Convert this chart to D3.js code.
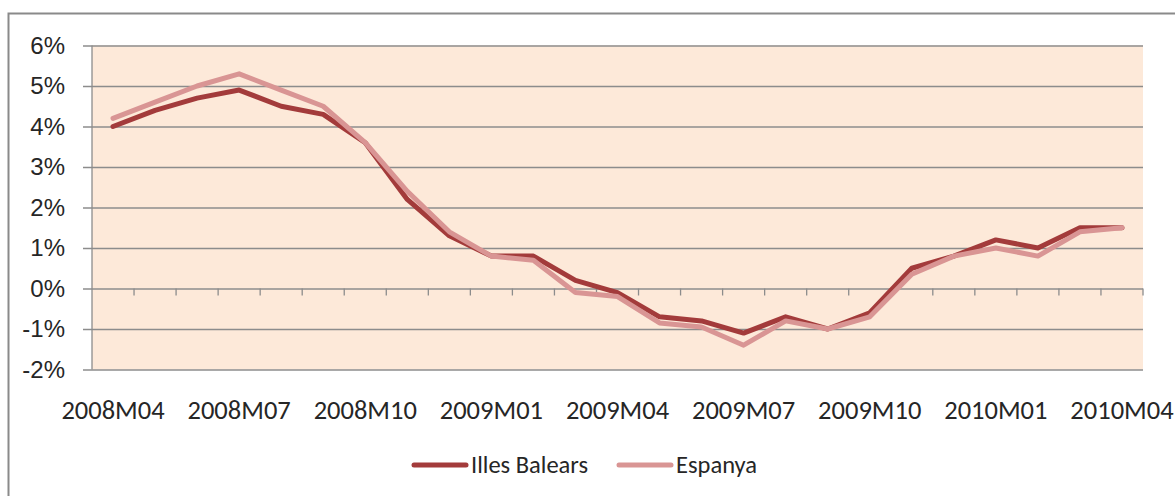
<!DOCTYPE html>
<html>
<head>
<meta charset="utf-8">
<script src="https://cdn.jsdelivr.net/npm/d3@7"></script>
<style>
  html, body { margin: 0; padding: 0; background: #fff; }
  svg { display: block; font-family: Calibri, Carlito, "Open Sans", sans-serif; }
</style>
</head>
<body>
<div id="chart"></div>
<script>

var months = ['2008M04','2008M05','2008M06','2008M07','2008M08','2008M09','2008M10',
              '2008M11','2008M12','2009M01','2009M02','2009M03','2009M04','2009M05',
              '2009M06','2009M07','2009M08','2009M09','2009M10','2009M11','2009M12',
              '2010M01','2010M02','2010M03','2010M04'];

var illesBalears = [4.0, 4.4, 4.7, 4.9, 4.5, 4.3, 3.6, 2.2, 1.3, 0.8, 0.8, 0.2, -0.1,
                    -0.7, -0.8, -1.1, -0.7, -1.0, -0.6, 0.5, 0.8, 1.2, 1.0, 1.5, 1.5];

var espanya = [4.2, 4.6, 5.0, 5.3, 4.9, 4.5, 3.6, 2.4, 1.4, 0.8, 0.7, -0.1, -0.2,
               -0.85, -0.95, -1.4, -0.8, -1.0, -0.7, 0.35, 0.8, 1.0, 0.8, 1.4, 1.5];

var yTicks = [-2, -1, 0, 1, 2, 3, 4, 5, 6];

var seriesNames = ['Illes Balears', 'Espanya'];
var seriesColors = ['#a33b3b', '#d99594'];

var width = 1175;
var height = 496;

var svg = d3.select('#chart')
    .append('svg')
    .attr('width', width)
    .attr('height', height);

// outer chart frame (runs off the right and bottom of the picture)
svg.append('rect')
    .attr('x', 8.5)
    .attr('y', 13.5)
    .attr('width', 1200)
    .attr('height', 520)
    .attr('fill', '#fff')
    .attr('stroke', '#8a8a8a')
    .attr('stroke-width', 2);

var plot = { left: 92, right: 1143, top: 45.5, bottom: 369.5 };

var x = d3.scaleBand()
    .domain(months)
    .range([plot.left, plot.right]);

var y = d3.scaleLinear()
    .domain([-2, 6])
    .range([plot.bottom, plot.top]);

// plot background
svg.append('rect')
    .attr('x', plot.left)
    .attr('y', plot.top)
    .attr('width', plot.right - plot.left)
    .attr('height', plot.bottom - plot.top)
    .attr('fill', '#fde9d9');

// gridlines + value axis
var yAxis = d3.axisLeft(y)
    .tickValues(yTicks)
    .tickSize(plot.right - plot.left + 9)
    .tickPadding(18)
    .tickFormat(function(d) { return d + '%'; });

var gy = svg.append('g')
    .attr('transform', 'translate(' + plot.right + ',0)')
    .call(yAxis);

gy.select('.domain').remove();
gy.selectAll('.tick line')
    .attr('stroke', '#8c8c8c')
    .attr('stroke-width', 1.3);
gy.selectAll('.tick text')
    .attr('fill', '#262626')
    .attr('font-size', 24);

svg.append('line')
    .attr('x1', plot.left)
    .attr('x2', plot.left)
    .attr('y1', plot.top)
    .attr('y2', plot.bottom)
    .attr('stroke', '#8c8c8c')
    .attr('stroke-width', 1.3);

// category axis sits on 0%
var xTicks = d3.range(1, months.length + 1).map(function(i) {
    return plot.left + i * x.step();
});

svg.append('g')
    .selectAll('line')
    .data(xTicks)
    .enter()
    .append('line')
    .attr('x1', function(d) { return d; })
    .attr('x2', function(d) { return d; })
    .attr('y1', y(0))
    .attr('y2', y(0) + 7)
    .attr('stroke', '#8c8c8c')
    .attr('stroke-width', 1.3);

svg.append('g')
    .selectAll('text')
    .data(months.filter(function(d, i) { return i % 3 === 0; }))
    .enter()
    .append('text')
    .attr('x', function(d) { return x(d) + x.bandwidth() / 2; })
    .attr('y', 419)
    .attr('text-anchor', 'middle')
    .attr('font-size', 26.5)
    .attr('fill', '#262626')
    .text(function(d) { return d; });

// lines
var line = d3.line()
    .x(function(d, i) { return x(months[i]) + x.bandwidth() / 2; })
    .y(function(d) { return y(d); });

var allSeries = [illesBalears, espanya];

svg.selectAll('path.series')
    .data(allSeries)
    .enter()
    .append('path')
    .attr('class', 'series')
    .attr('d', line)
    .attr('fill', 'none')
    .attr('stroke', function(d, i) { return seriesColors[i]; })
    .attr('stroke-width', 5)
    .attr('stroke-linejoin', 'round')
    .attr('stroke-linecap', 'round');

// legend
var legendX = [414, 619];

var legend = svg.selectAll('g.legend')
    .data(seriesNames)
    .enter()
    .append('g')
    .attr('class', 'legend')
    .attr('transform', function(d, i) { return 'translate(' + legendX[i] + ',465)'; });

legend.append('line')
    .attr('x1', 0)
    .attr('x2', 52)
    .attr('stroke', function(d, i) { return seriesColors[i]; })
    .attr('stroke-width', 5)
    .attr('stroke-linecap', 'round');

legend.append('text')
    .attr('x', 57)
    .attr('y', 7.5)
    .attr('font-size', 24.5)
    .attr('fill', '#262626')
    .text(function(d) { return d; });

</script>
</body>
</html>
